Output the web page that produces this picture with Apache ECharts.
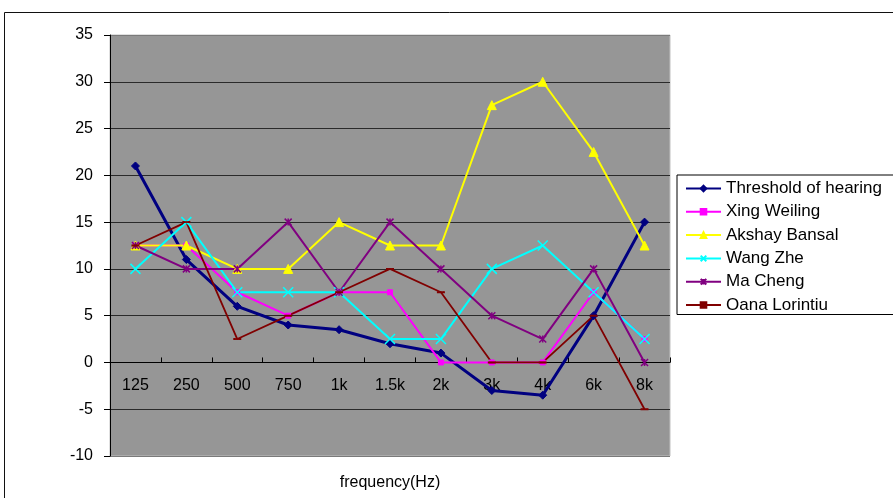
<!DOCTYPE html>
<html>
<head>
<meta charset="utf-8">
<title>Hearing thresholds by frequency</title>
<script src="https://cdn.jsdelivr.net/npm/echarts@6/dist/echarts.min.js"></script>
<style>
  html, body { margin: 0; padding: 0; background: #fff; }
  #chart { width: 893px; height: 498px; }
</style>
</head>
<body>
<div id="chart"></div>
<script>
// Frequency bands (x axis)
const frequencies = ['125', '250', '500', '750', '1k', '1.5k', '2k', '3k', '4k', '6k', '8k'];

// Hearing levels per listener, one value per frequency band
const thresholdOfHearing = [21, 11, 6, 4, 3.5, 2, 1, -3, -3.5, 5, 15];
const xingWeiling        = [12.5, 12.5, 7.5, 5, 7.5, 7.5, 0, 0, 0, 7.5, 2.5];
const akshayBansal       = [12.5, 12.5, 10, 10, 15, 12.5, 12.5, 27.5, 30, 22.5, 12.5];
const wangZhe            = [10, 15, 7.5, 7.5, 7.5, 2.5, 2.5, 10, 12.5, 7.5, 2.5];
const maCheng            = [12.5, 10, 10, 15, 7.5, 15, 10, 5, 2.5, 10, 0];
const oanaLorintiu       = [12.5, 15, 2.5, 5, 7.5, 10, 7.5, 0, 0, 5, -5];

// Y axis range and step
const yMin = -10, yMax = 35, yStep = 5;

// Plot area geometry
const gridTop = 35, gridHeight = 421;
// Raise the category axis from the bottom edge up to the zero line
const zeroOffset = -gridHeight * (0 - yMin) / (yMax - yMin);

const FONT = 'Liberation Sans, Arial, sans-serif';
const crossPath = 'path://M0,0L10,10M10,0L0,10';
const starPath = 'path://M0,0L10,10M10,0L0,10M5,0L5,10';

function lineSeries(name, data, color, width, symbol, size, extra) {
  return Object.assign({
    name: name,
    type: 'line',
    data: data,
    color: color,
    symbol: symbol,
    symbolSize: size,
    showSymbol: true,
    lineStyle: { color: color, width: width },
    itemStyle: { color: color, borderColor: color, borderWidth: 1 },
    emphasis: { disabled: true }
  }, extra || {});
}

const chart = echarts.init(document.getElementById('chart'), null, { renderer: 'canvas' });

chart.setOption({
  animation: false,
  textStyle: { fontFamily: FONT },
  graphic: [{
    type: 'rect',
    shape: { x: 4.5, y: 12.5, width: 1000, height: 1000 },
    style: { fill: 'none', stroke: '#111', lineWidth: 1 },
    silent: true,
    z: -10
  }],
  grid: {
    left: 110, top: gridTop, width: 560, height: gridHeight,
    outerBoundsMode: 'none',
    containLabel: false,
    show: true,
    backgroundColor: '#969696',
    borderColor: '#c0c0c0',
    borderWidth: 1
  },
  legend: {
    orient: 'vertical',
    left: 677, top: 175,
    padding: [5, 20, 1, 8],
    itemWidth: 35,
    itemHeight: 7,
    itemGap: 6.3,
    backgroundColor: '#fff',
    borderColor: '#000',
    borderWidth: 1,
    textStyle: { fontFamily: FONT, fontSize: 17, lineHeight: 16, color: '#000' },
    selectedMode: false
  },
  xAxis: {
    type: 'category',
    data: frequencies,
    boundaryGap: true,
    offset: zeroOffset,
    name: 'frequency(Hz)',
    nameLocation: 'middle',
    nameGap: 112,
    nameTextStyle: { fontFamily: FONT, fontSize: 16, color: '#000' },
    axisLine: { onZero: false, lineStyle: { color: '#000', width: 1 } },
    axisTick: { show: true, inside: true, length: 5, interval: 0, lineStyle: { color: '#000' } },
    axisLabel: { interval: 0, margin: 15, fontFamily: FONT, fontSize: 16, color: '#000' },
    splitLine: { show: false }
  },
  yAxis: {
    type: 'value',
    min: yMin, max: yMax, interval: yStep,
    axisLine: { show: true, lineStyle: { color: '#000', width: 1 } },
    axisTick: { show: true, inside: false, length: 6, lineStyle: { color: '#000' } },
    axisLabel: { margin: 17, fontFamily: FONT, fontSize: 16, color: '#000' },
    splitLine: {
      show: true,
      lineStyle: {
        color: ['#7a7a7a', '#2a2a2a', '#000', '#2a2a2a', '#2a2a2a', '#2a2a2a', '#2a2a2a', '#2a2a2a', '#2a2a2a', '#7a7a7a'],
        width: 1
      }
    }
  },
  series: [
    lineSeries('Threshold of hearing', thresholdOfHearing, '#000080', 3, 'diamond', 8),
    lineSeries('Xing Weiling', xingWeiling, '#ff00ff', 2, 'rect', 5),
    lineSeries('Akshay Bansal', akshayBansal, '#ffff00', 2, 'triangle', 9),
    lineSeries('Wang Zhe', wangZhe, '#00ffff', 2, crossPath, 10,
      { itemStyle: { color: '#00ffff', borderColor: '#00ffff', borderWidth: 1.5 } }),
    lineSeries('Ma Cheng', maCheng, '#800080', 2, starPath, 7,
      { itemStyle: { color: '#800080', borderColor: '#800080', borderWidth: 1.5 } }),
    lineSeries('Oana Lorintiu', oanaLorintiu, '#800000', 1.8, 'rect', [6, 1.5])
  ]
});
</script>
</body>
</html>
